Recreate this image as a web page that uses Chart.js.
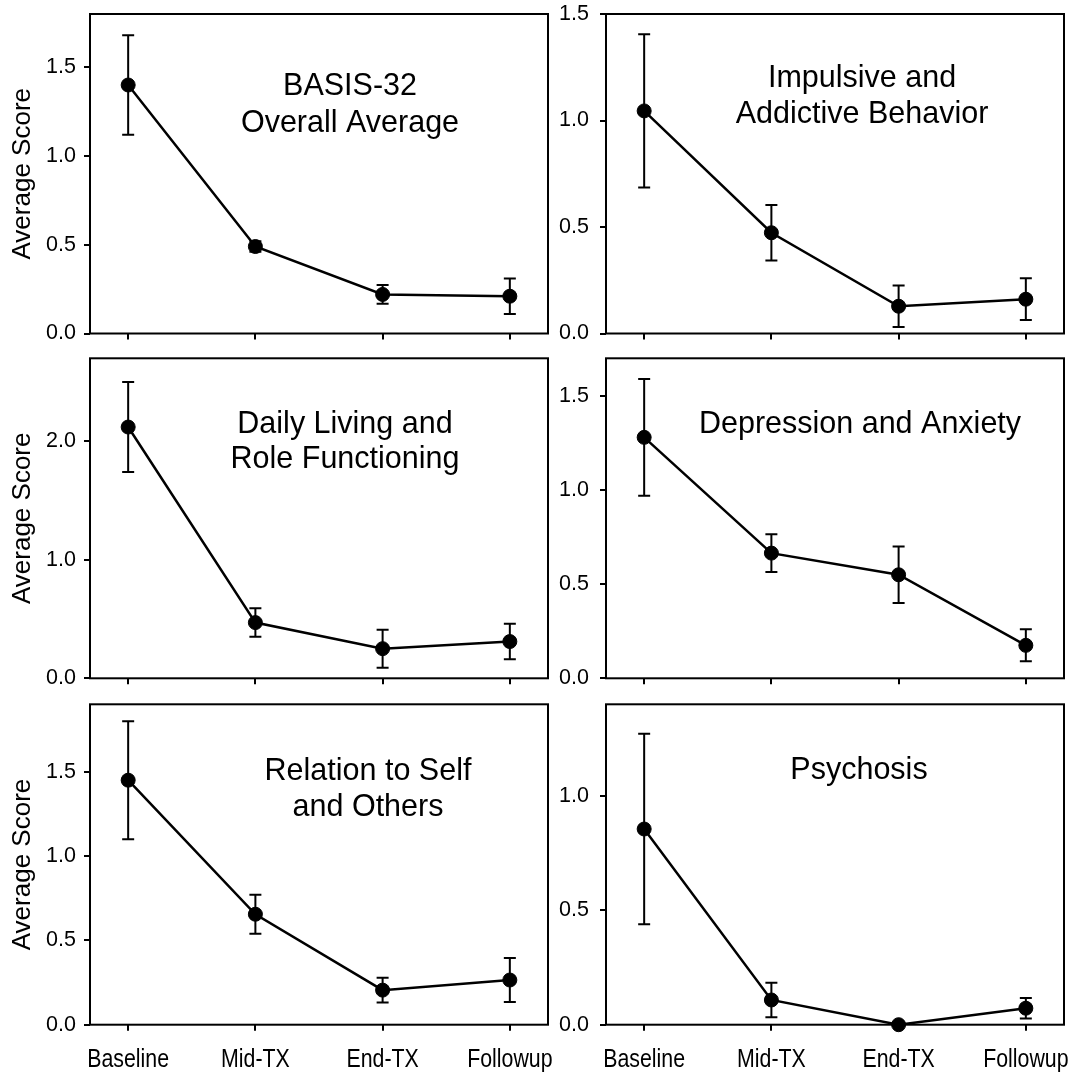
<!DOCTYPE html>
<html><head><meta charset="utf-8">
<script src="https://cdn.jsdelivr.net/npm/chart.js@4.4.1/dist/chart.umd.min.js"></script>
<style>
html,body{margin:0;padding:0;background:#fff;}
#wrap{position:relative;width:1074px;height:1078px;overflow:hidden;}
#wrap canvas{position:absolute;left:0;top:0;}
</style></head><body><div id="wrap"></div>
<script>
// ---- data ----
const categories = ['Baseline', 'Mid-TX', 'End-TX', 'Followup'];

const basisMean = [1.40, 0.49, 0.22, 0.21];
const basisErr  = [0.28, 0.03, 0.053, 0.10];

const impulsiveMean = [1.045, 0.473, 0.128, 0.161];
const impulsiveErr  = [0.36, 0.13, 0.097, 0.098];

const dailyMean = [2.12, 0.47, 0.25, 0.31];
const dailyErr  = [0.38, 0.12, 0.16, 0.15];

const depressionMean = [1.28, 0.665, 0.55, 0.175];
const depressionErr  = [0.31, 0.10, 0.15, 0.085];

const relationMean = [1.45, 0.655, 0.205, 0.265];
const relationErr  = [0.35, 0.115, 0.073, 0.13];

const psychosisMean = [0.855, 0.108, 0.0, 0.072];
const psychosisErr  = [0.416, 0.075, 0.0, 0.045];

const ticksBasis = [0, 0.5, 1.0, 1.5];
const ticksImpulsive = [0, 0.5, 1.0, 1.5];
const ticksDaily = [0, 1.0, 2.0];
const ticksDepression = [0, 0.5, 1.0, 1.5];
const ticksRelation = [0, 0.5, 1.0, 1.5];
const ticksPsychosis = [0, 0.5, 1.0];

const maxBasis = 1.8, maxImpulsive = 1.5, maxDaily = 2.7, maxDepression = 1.7, maxRelation = 1.9, maxPsychosis = 1.4;

const titleBasis = ['BASIS-32', 'Overall Average'];
const titleImpulsive = ['Impulsive and', 'Addictive Behavior'];
const titleDaily = ['Daily Living and', 'Role Functioning'];
const titleDepression = ['Depression and Anxiety'];
const titleRelation = ['Relation to Self', 'and Others'];
const titlePsychosis = ['Psychosis'];
const yTitle = 'Average Score';

// ---- layout (positions / styles) ----
const W = 1074, H = 1078, XH = 50;
const FONT = "'Liberation Sans', Arial, sans-serif";
const NARROW_SCALE = 0.82;

const panels = [
  {mean: basisMean, err: basisErr, ticks: ticksBasis, max: maxBasis, title: titleBasis,
   box: {left: 90, top: 14, right: 548, bottom: 333.5}, tdx: 260, tdy: 70, gap: 37, showX: false, showY: true, lpad: 8},
  {mean: impulsiveMean, err: impulsiveErr, ticks: ticksImpulsive, max: maxImpulsive, title: titleImpulsive,
   box: {left: 606, top: 14, right: 1064, bottom: 333.5}, tdx: 256, tdy: 62, gap: 36, showX: false, showY: false, lpad: 11},
  {mean: dailyMean, err: dailyErr, ticks: ticksDaily, max: maxDaily, title: titleDaily,
   box: {left: 90, top: 358.3, right: 548, bottom: 678.3}, tdx: 255, tdy: 63.7, gap: 35, showX: false, showY: true, lpad: 8},
  {mean: depressionMean, err: depressionErr, ticks: ticksDepression, max: maxDepression, title: titleDepression,
   box: {left: 606, top: 358.3, right: 1064, bottom: 678.3}, tdx: 254, tdy: 63.7, gap: 36, showX: false, showY: false, lpad: 11},
  {mean: relationMean, err: relationErr, ticks: ticksRelation, max: maxRelation, title: titleRelation,
   box: {left: 90, top: 704.3, right: 548, bottom: 1024.7}, tdx: 278, tdy: 64.3, gap: 36, showX: true, showY: true, lpad: 8},
  {mean: psychosisMean, err: psychosisErr, ticks: ticksPsychosis, max: maxPsychosis, title: titlePsychosis,
   box: {left: 606, top: 704.3, right: 1064, bottom: 1024.7}, tdx: 253, tdy: 63.5, gap: 36, showX: true, showY: false, lpad: 11}
];

// Draw the library's own x tick labels horizontally condensed (Arial Narrow look)
const narrowLabelsPlugin = {
  id: 'narrowLabels',
  beforeDraw(chart) {
    const xs = chart.scales.x;
    if (!xs || xs._narrowPatched) return;
    const orig = xs.drawLabels.bind(xs);
    xs.drawLabels = function (area) {
      const ctx = this.ctx;
      const ft = ctx.fillText;
      ctx.fillText = function (t, x, y, mw) {
        this.save();
        this.scale(NARROW_SCALE, 1);
        ft.call(this, t, x / NARROW_SCALE, y);
        this.restore();
      };
      try { orig(area); } finally { delete ctx.fillText; }
    };
    xs._narrowPatched = true;
  }
};

const framePlugin = {
  id: 'frameBox',
  afterDraw(chart) {
    const a = chart.chartArea, ctx = chart.ctx;
    ctx.save();
    ctx.strokeStyle = '#000'; ctx.lineWidth = 2;
    ctx.strokeRect(a.left, a.top, a.right - a.left, a.bottom - a.top);
    ctx.restore();
  }
};

const errPlugin = {
  id: 'errBars',
  afterDatasetsDraw(chart) {
    const ds = chart.data.datasets[0];
    const xs = chart.scales.x, ys = chart.scales.y, ctx = chart.ctx;
    ctx.save();
    ctx.strokeStyle = '#000'; ctx.lineWidth = 2;
    ds.data.forEach((pt, i) => {
      const e = ds.errValues[i];
      if (!e) return;
      const x = xs.getPixelForValue(pt.x);
      const y1 = ys.getPixelForValue(pt.y + e), y2 = ys.getPixelForValue(pt.y - e);
      ctx.beginPath();
      ctx.moveTo(x, y1); ctx.lineTo(x, y2);
      ctx.moveTo(x - 6, y1); ctx.lineTo(x + 6, y1);
      ctx.moveTo(x - 6, y2); ctx.lineTo(x + 6, y2);
      ctx.stroke();
    });
    ctx.restore();
  }
};

const textPlugin = {
  id: 'panelText',
  afterDraw(chart, args, opts) {
    const a = chart.chartArea, ctx = chart.ctx;
    ctx.save();
    ctx.fillStyle = '#000';
    ctx.font = '30.5px ' + FONT;
    ctx.textAlign = 'center';
    ctx.textBaseline = 'alphabetic';
    (opts.lines || []).forEach((t, i) => {
      ctx.fillText(t, a.left + opts.dx, a.top + opts.dy + i * opts.gap + 10.9);
    });
    ctx.restore();
  }
};

const wrap = document.getElementById('wrap');
panels.forEach(p => {
  const cv = document.createElement('canvas');
  cv.width = W; cv.height = H;
  cv.style.width = W + 'px'; cv.style.height = H + 'px';
  wrap.appendChild(cv);
  new Chart(cv, {
    type: 'line',
    data: {
      datasets: [{
        data: p.mean.map((v, i) => ({x: i, y: v})),
        errValues: p.err,
        borderColor: '#000', borderWidth: 2.5,
        pointRadius: 7, pointBackgroundColor: '#000', pointBorderColor: '#000', pointBorderWidth: 1,
        pointHoverRadius: 7,
        clip: false, tension: 0, fill: false
      }]
    },
    options: {
      responsive: false, animation: false, devicePixelRatio: 1,
      events: [],
      layout: {padding: {left: 0, top: p.box.top, right: W - p.box.right, bottom: H - p.box.bottom - XH}},
      plugins: {
        legend: {display: false}, tooltip: {enabled: false},
        panelText: {lines: p.title, dx: p.tdx, dy: p.tdy, gap: p.gap}
      },
      scales: {
        x: {
          type: 'linear', min: -0.3, max: 3.3,
          afterBuildTicks: s => { s.ticks = categories.map((c, i) => ({value: i})); },
          afterFit: s => { s.height = XH; s.paddingLeft = 0; s.paddingRight = 0; },
          grid: {display: true, drawOnChartArea: false, drawTicks: true, tickLength: 6, color: '#000', lineWidth: 2},
          border: {display: false},
          ticks: {display: p.showX, autoSkip: false, maxRotation: 0, minRotation: 0, padding: 14, color: '#000',
                  font: {family: FONT, size: 26},
                  callback: v => categories[v]}
        },
        y: {
          min: 0, max: p.max,
          afterBuildTicks: s => { s.ticks = p.ticks.map(v => ({value: v})); },
          afterFit: s => { s.width = p.box.left; s.paddingTop = 0; s.paddingBottom = 0; },
          grid: {display: true, drawOnChartArea: false, drawTicks: true, tickLength: 6, color: '#000', lineWidth: 2},
          border: {display: false},
          ticks: {padding: p.lpad, color: '#000', font: {family: FONT, size: 21.5},
                  callback: v => Number(v).toFixed(1)},
          title: {display: p.showY, text: yTitle, color: '#000', font: {family: FONT, size: 26},
                  padding: {top: 7, bottom: 0}}
        }
      }
    },
    plugins: [narrowLabelsPlugin, framePlugin, errPlugin, textPlugin]
  });
});
</script>
</body></html>
